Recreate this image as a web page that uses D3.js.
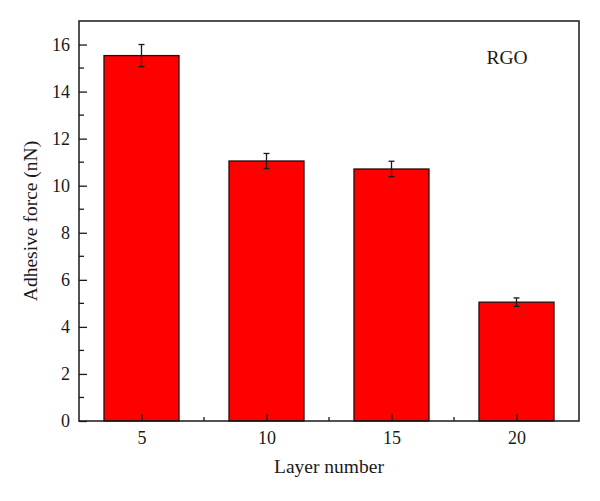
<!DOCTYPE html>
<html><head><meta charset="utf-8">
<script src="https://cdn.jsdelivr.net/npm/d3@7"></script>
<style>body{margin:0;background:#fff}svg{display:block}text{font-family:"Liberation Serif","DejaVu Serif",serif;fill:#1a1a1a}</style>
</head><body>
<script>
const layers = [5, 10, 15, 20];
const force = [15.53, 11.05, 10.71, 5.05];
const errs = [0.47, 0.32, 0.33, 0.18];
const yTicks = [0, 2, 4, 6, 8, 10, 12, 14, 16];
const yMinor = [1, 3, 5, 7, 9, 11, 13, 15];
const xMinor = [7.5, 12.5, 17.5];

const W = 600, H = 501;
const m = {l: 79, r: 21, t: 21, b: 80};
const svg = d3.select("body").append("svg").attr("width", W).attr("height", H);
const x = d3.scaleLinear().domain([2.5, 22.5]).range([m.l, W - m.r]);
const y = d3.scaleLinear().domain([0, 17]).range([H - m.b, m.t]);
const barHalf = 1.5;

const g = svg.append("g");
g.selectAll("rect.bar").data(layers).join("rect").attr("class", "bar")
  .attr("x", d => x(d - barHalf)).attr("width", d => x(d + barHalf) - x(d - barHalf))
  .attr("y", (d, i) => y(force[i])).attr("height", (d, i) => y(0) - y(force[i]))
  .attr("fill", "#ff0000").attr("stroke", "#2a0a0a").attr("stroke-width", 1.3);

// error bars
const eb = g.selectAll("g.eb").data(layers).join("g").attr("class", "eb")
  .attr("stroke", "#1a1a1a").attr("stroke-width", 1.3);
eb.append("line").attr("x1", d => x(d)).attr("x2", d => x(d))
  .attr("y1", (d, i) => y(force[i] + errs[i])).attr("y2", (d, i) => y(force[i] - errs[i]));
eb.append("line").attr("x1", d => x(d) - 3).attr("x2", d => x(d) + 3)
  .attr("y1", (d, i) => y(force[i] + errs[i])).attr("y2", (d, i) => y(force[i] + errs[i]));
eb.append("line").attr("x1", d => x(d) - 3).attr("x2", d => x(d) + 3)
  .attr("y1", (d, i) => y(force[i] - errs[i])).attr("y2", (d, i) => y(force[i] - errs[i]));

// frame
svg.append("rect").attr("x", m.l).attr("y", m.t).attr("width", W - m.r - m.l).attr("height", H - m.b - m.t)
  .attr("fill", "none").attr("stroke", "#1a1a1a").attr("stroke-width", 1.5);

// y axis
const ya = svg.append("g").attr("transform", `translate(${m.l},0)`)
  .call(d3.axisLeft(y).tickValues(yTicks).tickSize(-8).tickPadding(9).tickFormat(d3.format("d")));
ya.select(".domain").remove();
ya.selectAll(".tick line").attr("stroke", "#1a1a1a").attr("stroke-width", 1.3);
ya.selectAll(".tick text").attr("font-size", 18).attr("font-family", "Liberation Serif").attr("fill", "#1a1a1a");
svg.append("g").selectAll("line").data(yMinor).join("line")
  .attr("x1", m.l).attr("x2", m.l + 5).attr("y1", d => y(d)).attr("y2", d => y(d))
  .attr("stroke", "#1a1a1a").attr("stroke-width", 1.3);

// x axis
const xa = svg.append("g").attr("transform", `translate(0,${H - m.b})`)
  .call(d3.axisBottom(x).tickValues(layers).tickSize(-7).tickPadding(10).tickFormat(d3.format("d")));
xa.select(".domain").remove();
xa.selectAll(".tick line").attr("stroke", "#1a1a1a").attr("stroke-width", 1.3);
xa.selectAll(".tick text").attr("font-size", 18).attr("font-family", "Liberation Serif").attr("fill", "#1a1a1a");
svg.append("g").selectAll("line").data(xMinor).join("line")
  .attr("x1", d => x(d)).attr("x2", d => x(d)).attr("y1", H - m.b).attr("y2", H - m.b - 4)
  .attr("stroke", "#1a1a1a").attr("stroke-width", 1.3);

svg.append("text").attr("x", (m.l + W - m.r) / 2).attr("y", 473).attr("text-anchor", "middle")
  .attr("font-size", 19.5).text("Layer number");
svg.append("text").attr("transform", `translate(37,${(m.t + H - m.b) / 2}) rotate(-90)`)
  .attr("text-anchor", "middle").attr("font-size", 19.5).text("Adhesive force (nN)");
svg.append("text").attr("x", 507).attr("y", 64).attr("text-anchor", "middle").attr("font-size", 19.5).text("RGO");
</script>
</body></html>
